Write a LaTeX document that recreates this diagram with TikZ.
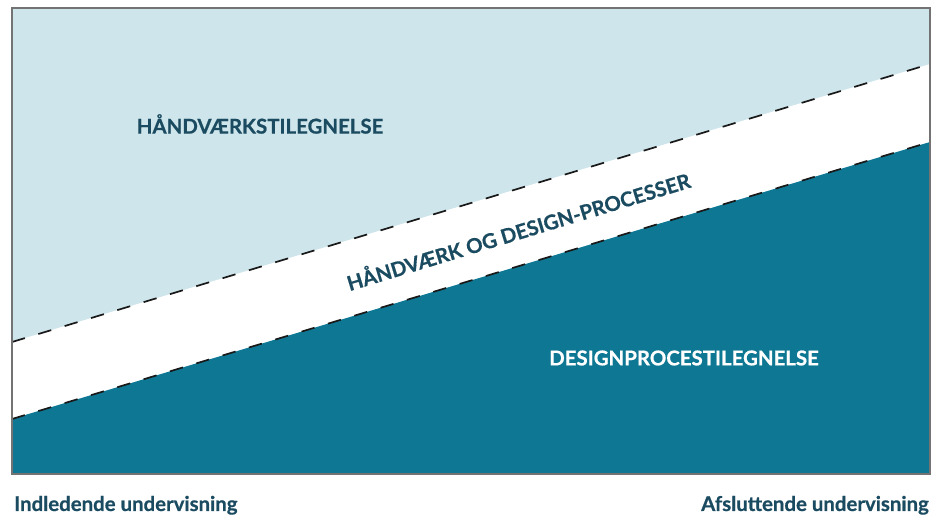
\documentclass[tikz,border=0pt]{standalone}
\usepackage{fontspec}
\setmainfont{Lato}[BoldFeatures={FakeBold=0.6}]
\usepackage{xcolor}
\usetikzlibrary{positioning, calc}

\definecolor{craftblue}{HTML}{CDE5EB}
\definecolor{designteal}{HTML}{0E7894}
\definecolor{labelink}{HTML}{1B4B60}

\begin{document}
\begin{tikzpicture}[x=1pt, y=-1pt,
    zone label/.style={font=\bfseries\fontsize{20.4}{24}\selectfont, inner sep=0pt},
    band edge/.style={black!90, line width=1.7pt, dash pattern=on 13.5pt off 14pt},
    axis label/.style={font=\bfseries\fontsize{20.4}{24}\selectfont, text=labelink, inner sep=0pt}]

    \useasboundingbox (0,0) rectangle (935,518);

    % Frame corners & band edges
    \coordinate (tl) at (12,8);
    \coordinate (br) at (930,474);
    \coordinate (bl) at (12,474);
    \coordinate (upL) at (12,342);
    \coordinate (upR) at (930,64);
    \coordinate (loL) at (12,419);
    \coordinate (loR) at (930,142);

    % Zones
    \fill[craftblue] (tl) rectangle (br);
    \fill[white] (upL) -- (upR) -- (loR) -- (loL) -- cycle;
    \fill[designteal] (loL) -- (loR) -- (br) -- (bl) -- cycle;

    % Dashed band edges
    \draw[band edge] (upL) -- (upR);
    \draw[band edge] (loL) -- (loR);

    % Frame
    \draw[black!55, line width=1.3pt] (tl) rectangle (br);

    % Zone labels
    \node[zone label, text=labelink] (craft) at (260,124) {HÅNDVÆRKSTILEGNELSE};
    \node[zone label, text=white] (design) at (684,358) {DESIGNPROCESTILEGNELSE};
    \node[zone label, text=labelink, rotate=16.9] (both) at (518,230) {HÅNDVÆRK OG DESIGN-PROCESSER};

    % Time axis
    \node[axis label, anchor=base west] (start) at (14,511) {Indledende undervisning};
    \node[axis label, anchor=base east] (finish) at (929,511) {Afsluttende undervisning};
\end{tikzpicture}
\end{document}
